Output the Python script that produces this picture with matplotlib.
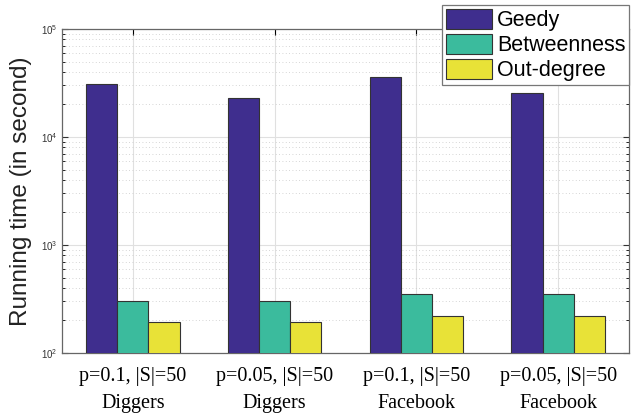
import numpy as np
import matplotlib.pyplot as plt
from matplotlib.ticker import LogLocator, NullFormatter

# data
groups = ['p=0.1, |S|=50\nDiggers', 'p=0.05, |S|=50\nDiggers',
          'p=0.1, |S|=50\nFacebook', 'p=0.05, |S|=50\nFacebook']
methods = ['Geedy', 'Betweenness', 'Out-degree']
geedy = [31000, 23100, 36000, 25400]
betweenness = [305, 305, 354, 354]
out_degree = [192, 192, 220, 220]
colors = ['#3f2e8e', '#3bbb9d', '#e8e237']

fig = plt.figure(figsize=(6.35, 4.13), dpi=100)
ax = fig.add_axes([0.0976, 0.1453, 0.8930, 0.7845])

x = np.arange(1, len(groups) + 1)
w = 0.22
for i, (vals, lab) in enumerate(zip([geedy, betweenness, out_degree], methods)):
    ax.bar(x + (i - 1) * w, vals, w, color=colors[i], edgecolor='#333333',
           linewidth=0.8, label=lab, zorder=3)

ax.set_yscale('log')
ax.set_ylim(100, 1e5)
ax.set_xlim(0.5, 4.5)
ax.set_xticks(x)
ax.set_xticklabels(groups, family=['Liberation Serif', 'DejaVu Serif'],
                   fontsize=14.5, linespacing=1.55)
ax.yaxis.set_major_locator(LogLocator(base=10))
ax.yaxis.set_minor_locator(LogLocator(base=10, subs=np.arange(2, 10)))
ax.yaxis.set_minor_formatter(NullFormatter())
ax.tick_params(axis='y', which='major', labelsize=7, colors='#333333',
               direction='in', right=True, length=4)
for t in ax.get_yticklabels():
    t.set_family(['Liberation Sans', 'DejaVu Sans'])
ax.tick_params(axis='y', which='minor', direction='in', right=True, length=2)
ax.tick_params(axis='x', direction='in', top=True, length=4, pad=10)

ax.grid(True, which='major', color='#e0e0e0', linewidth=0.8, zorder=0)
ax.grid(True, which='minor', axis='y', color='#c8c8c8', linestyle=(0, (1, 3)),
        linewidth=0.6, zorder=0)
for s in ax.spines.values():
    s.set_color('#666666')
    s.set_linewidth(0.9)

ax.set_ylabel('Running time (in second)', fontsize=17.5, labelpad=6,
              family=['Liberation Sans', 'DejaVu Sans'], color='#222222')

leg = fig.legend(loc='upper right', bbox_to_anchor=(0.991, 0.988),
                 prop={'family': ['Liberation Sans', 'DejaVu Sans'], 'size': 15.5},
                 fancybox=False, edgecolor='#777777',
                 handlelength=2.1, handleheight=1.05, handletextpad=0.25,
                 labelspacing=0.12, borderpad=0.18, borderaxespad=0,
                 framealpha=1)
leg.get_frame().set_linewidth(0.9)

fig.savefig('out.png', dpi=100)
